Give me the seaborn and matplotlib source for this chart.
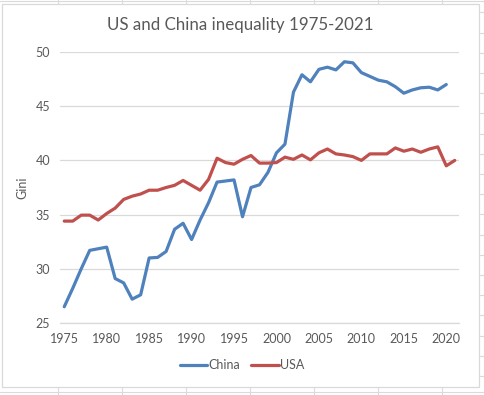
import matplotlib

matplotlib.use("Agg")
import matplotlib.pyplot as plt
import numpy as np
import pandas as pd
import seaborn as sns
from matplotlib.lines import Line2D
from matplotlib.patches import Rectangle

years = list(range(1975, 2022))

china_gini = [
    26.5, 28.2, 30.0, 31.7, 31.85, 32.0, 29.1, 28.7, 27.2, 27.6,
    31.0, 31.05, 31.6, 33.65, 34.2, 32.7, 34.5, 36.1, 38.0, 38.1,
    38.2, 34.8, 37.5, 37.75, 38.9, 40.7, 41.5, 46.3, 47.9, 47.25,
    48.4, 48.6, 48.35, 49.1, 49.0, 48.1, 47.75, 47.4, 47.25, 46.8,
    46.2, 46.5, 46.7, 46.75, 46.5, 47.0, np.nan,
]
usa_gini = [
    34.4, 34.4, 34.95, 34.95, 34.5, 35.1, 35.6, 36.4, 36.7, 36.9,
    37.25, 37.25, 37.5, 37.7, 38.15, 37.7, 37.25, 38.25, 40.2, 39.8,
    39.65, 40.1, 40.45, 39.75, 39.75, 39.8, 40.3, 40.1, 40.5, 40.05,
    40.7, 41.05, 40.6, 40.5, 40.35, 40.0, 40.6, 40.6, 40.6, 41.15,
    40.85, 41.05, 40.75, 41.05, 41.25, 39.5, 40.0,
]
series_names = ["China", "USA"]
series_colors = ["#4F81BD", "#C0504D"]
y_ticks = [25, 30, 35, 40, 45, 50]
x_ticks = [1975, 1980, 1985, 1990, 1995, 2000, 2005, 2010, 2015, 2020]

df = pd.DataFrame({"Year": years, "China": china_gini, "USA": usa_gini})
long_df = df.melt(id_vars="Year", var_name="Country", value_name="Gini").dropna()

sns.set_style("white")
plt.rcParams["font.family"] = ["Lato", "DejaVu Sans"]
text_color = "#595959"
grid_color = "#D9D9D9"

W, H = 484, 395
fig = plt.figure(figsize=(W / 100, H / 100), dpi=100)
fig.patch.set_facecolor("white")

# spreadsheet cells around the chart
sheet = "#DADADA"
def sheet_line(xs, ys):
    fig.add_artist(Line2D(xs, ys, color=sheet, lw=0.8, zorder=-2))

sheet_line([0, 1], [1 - 0.8 / H, 1 - 0.8 / H])
sheet_line([0, 1], [1 - 391.5 / H, 1 - 391.5 / H])
for xc in [58.3, 122.3, 186.3, 250.3, 314.3, 378.3, 442.3]:
    sheet_line([xc / W, xc / W], [1, 1 - 4 / H])
    sheet_line([xc / W, xc / W], [1 - 388 / H, 0])
for yr in np.arange(12.3, 395, 20.2):
    sheet_line([480 / W, 1], [1 - yr / H, 1 - yr / H])

# chart area frame
fig.add_artist(Rectangle((1.8 / W, 1 - 387 / H), (479.3 - 1.8) / W, (387 - 4) / H,
                         facecolor="white", edgecolor=grid_color, lw=0.9, zorder=-1))

ax = fig.add_axes([60 / W, 1 - 323 / H, (459 - 60) / W, (323 - 52) / H])
ax.set_facecolor("none")
ax.set_zorder(1)

sns.lineplot(
    data=long_df, x="Year", y="Gini", hue="Country",
    hue_order=series_names, palette=series_colors,
    linewidth=2.3, ax=ax, legend=False,
)

ax.set_xlim(1974.5, 2021.5)
ax.set_ylim(25, 50)
ax.set_xticks(x_ticks)
ax.set_yticks(y_ticks)
ax.tick_params(axis="both", length=0, labelsize=9, colors=text_color, pad=7)
ax.grid(axis="y", color=grid_color, lw=0.9)
ax.grid(axis="x", visible=False)
ax.set_axisbelow(True)
for side in ["left", "right", "top"]:
    ax.spines[side].set_visible(False)
ax.spines["bottom"].set_color(grid_color)
ax.spines["bottom"].set_linewidth(0.9)
ax.set_xlabel("")
ax.set_ylabel("Gini", color=text_color, fontsize=9, labelpad=5)

fig.text(240 / W, 1 - 25 / H, "US and China inequality 1975-2021",
         ha="center", va="center", fontsize=12.2, color=text_color)

handles = [Line2D([], [], color=c, lw=2.3) for c in series_colors]
fig.legend(handles, series_names, loc="center", bbox_to_anchor=(242 / W, 1 - 365 / H),
           ncol=2, frameon=False, fontsize=9, handlelength=2.2, handletextpad=0.1,
           columnspacing=0.9, labelcolor=text_color)

fig.savefig("out.png", dpi=100)
